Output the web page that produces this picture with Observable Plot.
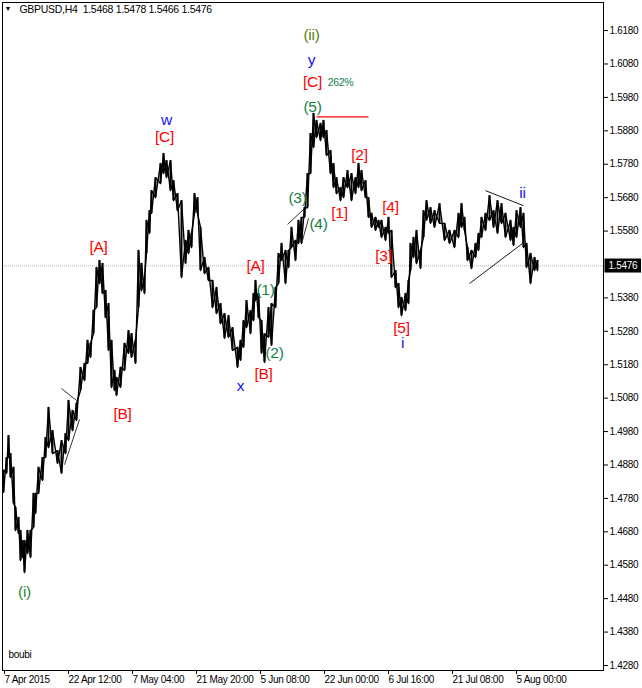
<!DOCTYPE html>
<html><head><meta charset="utf-8">
<script src="https://cdn.jsdelivr.net/npm/d3@7"></script>
<script src="https://cdn.jsdelivr.net/npm/@observablehq/plot@0.6"></script>
<style>
html,body{margin:0;padding:0;background:#fff;}
#chart svg text{letter-spacing:-0.3px;}
</style>
</head><body><div id="chart"></div>
<script>
// ---- header / meta ----
const symbolHeader = "GBPUSD,H4  1.5468 1.5478 1.5466 1.5476";
const authorTag = "boubi";
const lastPrice = 1.5476;

// ---- H4 bars (bar number, high, low) ----
const barIndex = [
  0,3,5,7,10,12,15,17,19,21,
  24,27,30,32,35,39,42,45,49,54,
  58,62,65,69,73,77,81,84,87,90,
  93,96,99,102,105,108,111,113,117,121,
  125,128,132,135,138,141,143,146,148,152,
  157,160,163,167,170,174,178,182,185,188,
  191,194,197,201,205,209,213,217,221,225,
  229,234,237,240,243,247,250,252,255,258,
  261,265,268,272,275,278,282,285,288,292,
  295,298,301,304,307,310,313,317,320,323,
  327,330,333,337,340,344,348,352,355,358,
  362,365,368,372,375,378,382,385,388,392,
  395,398,402,405,407,410,413,417,420,423,
  427,431,436,441,446,451,455,458,461,464,
  468,472,475,478,482,486,490,494,498,502,
  507,510,513,517,520,523,527,531,534
];
const highs = [
  1.4864,1.4902,1.4968,1.4914,1.4873,1.4753,1.4723,1.4684,1.4654,1.4654,
  1.4684,1.4684,1.4795,1.4795,1.4873,1.4902,1.4962,1.5052,1.4983,1.4923,
  1.4953,1.4974,1.5073,1.5043,1.5064,1.5172,1.5184,1.5253,1.5244,1.5342,
  1.5471,1.5492,1.5483,1.5402,1.5363,1.5253,1.5163,1.5142,1.5172,1.5244,
  1.5282,1.5273,1.5253,1.5522,1.5483,1.5441,1.5612,1.5641,1.5701,1.5740,
  1.5782,1.5812,1.5791,1.5791,1.5731,1.5692,1.5671,1.5552,1.5582,1.5573,
  1.5692,1.5680,1.5591,1.5501,1.5471,1.5432,1.5411,1.5363,1.5333,1.5327,
  1.5291,1.5232,1.5253,1.5312,1.5372,1.5342,1.5393,1.5432,1.5393,1.5312,
  1.5273,1.5351,1.5363,1.5411,1.5513,1.5543,1.5522,1.5522,1.5591,1.5552,
  1.5612,1.5621,1.5650,1.5752,1.5872,1.5932,1.5911,1.5902,1.5911,1.5881,
  1.5821,1.5782,1.5740,1.5710,1.5740,1.5761,1.5752,1.5740,1.5782,1.5761,
  1.5731,1.5680,1.5633,1.5621,1.5612,1.5612,1.5591,1.5621,1.5582,1.5462,
  1.5423,1.5381,1.5393,1.5432,1.5543,1.5561,1.5582,1.5522,1.5641,1.5671,
  1.5650,1.5641,1.5662,1.5603,1.5582,1.5582,1.5633,1.5662,1.5621,1.5531,
  1.5522,1.5543,1.5573,1.5621,1.5633,1.5686,1.5641,1.5671,1.5662,1.5633,
  1.5612,1.5591,1.5641,1.5650,1.5633,1.5543,1.5513,1.5501,1.5492
];
const lows = [
  1.4798,1.4855,1.4902,1.4843,1.4765,1.4684,1.4675,1.4594,1.4603,1.4558,
  1.4615,1.4603,1.4693,1.4735,1.4795,1.4834,1.4902,1.4932,1.4914,1.4885,
  1.4855,1.4914,1.4953,1.4983,1.5013,1.5103,1.5133,1.5184,1.5202,1.5273,
  1.5351,1.5423,1.5393,1.5321,1.5223,1.5112,1.5103,1.5088,1.5112,1.5163,
  1.5214,1.5202,1.5184,1.5351,1.5402,1.5393,1.5513,1.5573,1.5633,1.5680,
  1.5722,1.5752,1.5740,1.5701,1.5671,1.5641,1.5441,1.5483,1.5513,1.5531,
  1.5633,1.5633,1.5462,1.5453,1.5432,1.5351,1.5333,1.5303,1.5259,1.5262,
  1.5223,1.5172,1.5193,1.5232,1.5291,1.5273,1.5312,1.5372,1.5321,1.5214,
  1.5187,1.5262,1.5238,1.5351,1.5423,1.5492,1.5423,1.5471,1.5531,1.5492,
  1.5543,1.5543,1.5621,1.5650,1.5752,1.5830,1.5860,1.5851,1.5860,1.5806,
  1.5752,1.5710,1.5692,1.5671,1.5680,1.5710,1.5671,1.5692,1.5710,1.5701,
  1.5680,1.5621,1.5591,1.5582,1.5591,1.5561,1.5552,1.5573,1.5441,1.5411,
  1.5351,1.5327,1.5342,1.5363,1.5462,1.5501,1.5483,1.5468,1.5561,1.5612,
  1.5603,1.5591,1.5603,1.5552,1.5543,1.5531,1.5561,1.5591,1.5582,1.5492,
  1.5468,1.5501,1.5522,1.5561,1.5582,1.5612,1.5591,1.5573,1.5603,1.5561,
  1.5552,1.5537,1.5561,1.5591,1.5531,1.5471,1.5423,1.5462,1.5462
];

// ---- axes ----
const priceTicks = [1.4280,1.4380,1.4480,1.4580,1.4680,1.4780,1.4880,1.4980,1.5080,1.5180,
                    1.5280,1.5380,1.5580,1.5680,1.5780,1.5880,1.5980,1.6080,1.6180];
const timeTickBars = [0,64,128,192,256,320,384,448,512];
const timeTickLabels = ["7 Apr 2015","22 Apr 12:00","7 May 04:00","21 May 20:00","5 Jun 08:00",
                        "22 Jun 00:00","6 Jul 16:00","21 Jul 08:00","5 Aug 00:00"];

// ---- Elliott wave labels ----
const waveText  = ["(i)","[A]","[B]","[C]","w","x","[A]","[B]","(1)","(2)","(3)","(4)","(5)","[C]","y","(ii)",
                   "[1]","[2]","[3]","[4]","[5]","i","ii"];
const waveBar   = [21,95,119,161,163,237,252,260,262,271,294,315,309,309,308,308,
                   336,356,380,387,398,399,519];
const wavePrice = [1.4499,1.5531,1.5031,1.5860,1.5911,1.5115,1.5474,1.5151,1.5405,1.5214,1.5680,1.5600,1.5950,1.6027,1.6093,1.6168,
                   1.5635,1.5809,1.5504,1.5653,1.5291,1.5244,1.5695];
const waveDegree = ["minor","inter","inter","inter","minute","minute","inter","inter","minuette","minuette","minuette","minuette","minuette","inter","minute","intmin",
                   "inter","inter","inter","inter","inter","minute","minute"];
const degreeColor = {minor:"#2a8a34", inter:"#ff0000", minute:"#1414f0", minuette:"#16804a", intmin:"#5a8010"};

const ratioText = "262%";
const ratioBar = 337, ratioPrice = 1.6024;

// ---- drawn lines (bar1, price1, bar2, price2) ----
const lineBar1   = [58,61,284,299,482,466,313];
const linePrice1 = [1.5109,1.4881,1.5600,1.5552,1.5701,1.5423,1.5922];
const lineBar2   = [73,76,302,305,520,519,365];
const linePrice2 = [1.5073,1.5016,1.5650,1.5618,1.5656,1.5543,1.5922];
const lineColor  = ["black","black","black","black","black","black","red"];
const lineWidth  = [0.8,0.8,0.8,0.8,0.9,0.9,1.3];

// ---- build ----
const bars = barIndex.map((b,i)=>({b, high: highs[i], low: lows[i]}));
const zigA = bars.map((d,i)=>({b:d.b, p: i%2 ? d.high : d.low}));
const zigB = bars.map((d,i)=>({b:d.b, p: i%2 ? d.low : d.high}));
const waves = waveText.map((t,i)=>({t, b: waveBar[i], p: wavePrice[i], c: degreeColor[waveDegree[i]]}));
const lines = lineBar1.map((b,i)=>({b1:b, p1:linePrice1[i], b2:lineBar2[i], p2:linePrice2[i], c:lineColor[i], w:lineWidth[i]}));

const FONT = "'Liberation Sans', Arial, sans-serif";

const chart = Plot.plot({
  width: 642, height: 688,
  marginLeft: 2, marginRight: 39, marginTop: 2, marginBottom: 18,
  x: {domain: [-1, 600], axis: null},
  y: {domain: [1.4265, 1.6264], axis: null},
  style: {fontFamily: FONT, fontSize: "10px", background: "#fff", color: "black"},
  marks: [
    Plot.ruleY([lastPrice], {stroke: "#c4a6c4", strokeDasharray: "1,1", strokeWidth: 1}),
    Plot.ruleX(bars, {x: "b", y1: "low", y2: "high", stroke: "black", strokeWidth: 2}),
    Plot.line(zigA, {x: "b", y: "p", stroke: "black", strokeWidth: 1.4}),
    Plot.line(zigB, {x: "b", y: "p", stroke: "black", strokeWidth: 1.4}),
    Plot.link(lines, {x1: "b1", y1: "p1", x2: "b2", y2: "p2", stroke: "c", strokeWidth: "w"}),
    Plot.text(waves, {x: "b", y: "p", text: "t", fill: "c", fontSize: 15.5}),
    Plot.text([ratioText], {x: () => ratioBar, y: () => ratioPrice, fill: degreeColor.minuette, fontSize: 10.5}),
    Plot.axisY(priceTicks, {anchor: "right", tickSize: 4, tickPadding: 2, tickFormat: d => d.toFixed(4), fontSize: 10}),
    Plot.axisX(timeTickBars, {anchor: "bottom", tickSize: 4, tickPadding: 1, textAnchor: "start", dx: 1,
      tickFormat: d => timeTickLabels[timeTickBars.indexOf(d)], fontSize: 10}),
    Plot.text([lastPrice], {y: d => d, text: d => d.toFixed(4), frameAnchor: "right", dx: 5, textAnchor: "start",
      fill: "white", fontSize: 10, ariaDescription: "last-price"}),
    Plot.text([symbolHeader], {frameAnchor: "top-left", dx: 17, dy: 3, lineAnchor: "top", textAnchor: "start", fontSize: 10.5}),
    Plot.text(["\u25BC"], {frameAnchor: "top-left", dx: 2, dy: 4, lineAnchor: "top", textAnchor: "start", fontSize: 7}),
    Plot.text([authorTag], {frameAnchor: "bottom-left", dx: 6, dy: -13, textAnchor: "start", fontSize: 10}),
    Plot.frame({stroke: "black"})
  ]
});
document.getElementById("chart").append(chart);

// black box behind the last-price label
const lp = chart.querySelector('g[aria-description="last-price"] text');
if (lp) {
  const bb = lp.getBBox();
  const r = document.createElementNS("http://www.w3.org/2000/svg", "rect");
  r.setAttribute("x", bb.x - 4);
  r.setAttribute("y", bb.y - 1.5);
  r.setAttribute("width", bb.width + 7);
  r.setAttribute("height", bb.height + 3);
  r.setAttribute("fill", "black");
  const tf = lp.getAttribute("transform");
  if (tf) r.setAttribute("transform", tf);
  lp.parentNode.insertBefore(r, lp);
}
</script>
</body></html>
